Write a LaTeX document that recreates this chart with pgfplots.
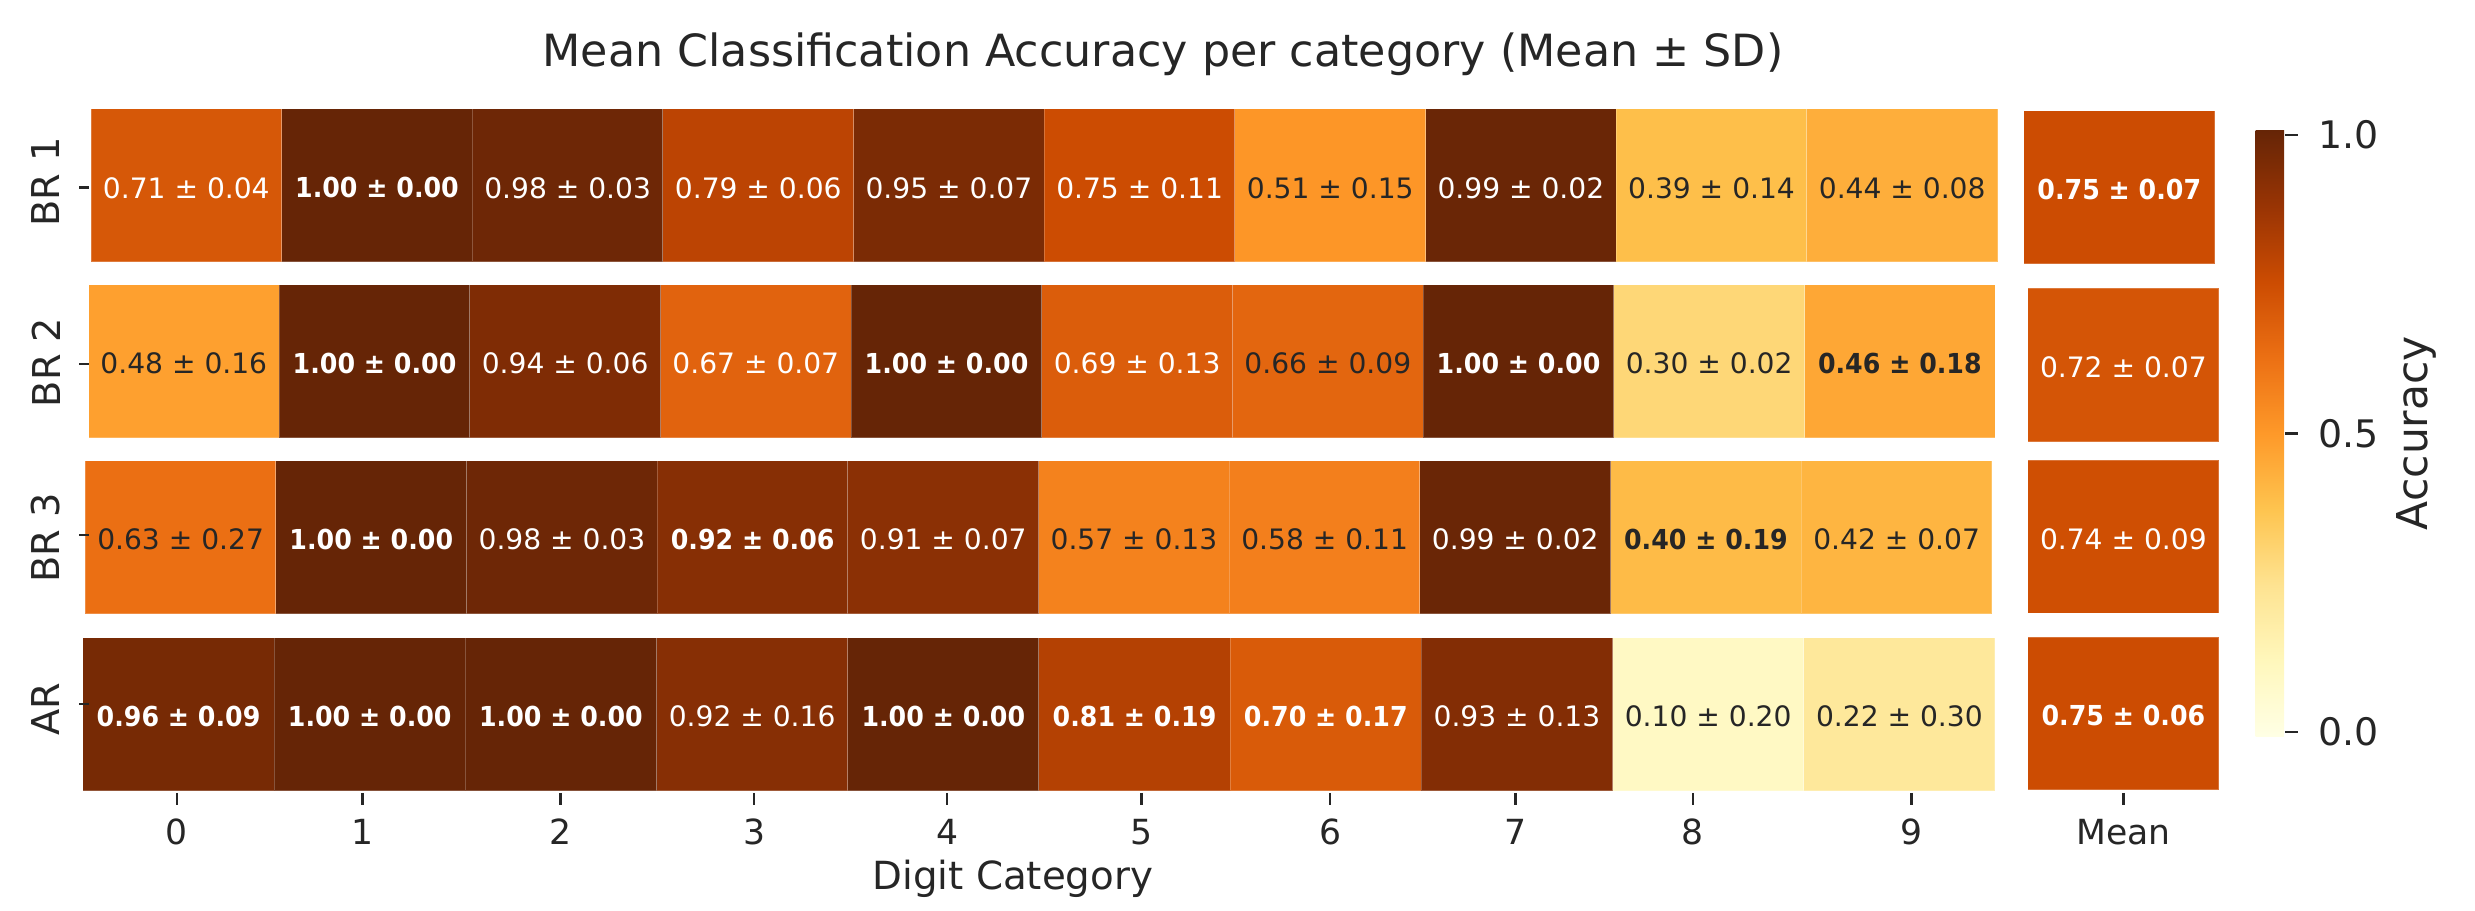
\documentclass[border=0pt]{standalone}
\usepackage{fontspec}
\setmainfont{DejaVu Sans}
\usepackage{graphicx}
\usepackage{pgfplots}
\pgfplotsset{compat=1.18}
\usepgfplotslibrary{patchplots}

\definecolor{dk}{RGB}{38,38,38}

\pgfplotsset{
  colormap={ylorbr}{rgb255=(255,255,229) rgb255=(255,247,188) rgb255=(254,227,145)
    rgb255=(254,196,79) rgb255=(254,153,41) rgb255=(236,112,20) rgb255=(204,76,2)
    rgb255=(153,52,4) rgb255=(102,37,6)},
  heat/.style={scale only axis, anchor=south west, hide axis, enlargelimits=false,
    clip=false, colormap name=ylorbr, point meta min=0, point meta max=1,
    height=36.72pt, ymin=-0.5, ymax=0.5},
  rowax/.style={heat, xmin=-0.5, xmax=9.5},
  meanax/.style={heat, width=45.86pt, xmin=-0.5, xmax=0.5},
  cells/.style={patch, patch type=rectangle, shader=faceted, faceted color=white,
    draw opacity=0.22, line width=0.25pt, point meta=explicit},
}
% same stops as the colormap, for the colour bar
\pgfdeclareverticalshading{ylorbrsh}{100bp}{rgb(0bp)=(1,1,0.898); rgb(25bp)=(1,1,0.898);
  rgb(31.25bp)=(1,0.969,0.737); rgb(37.5bp)=(0.996,0.890,0.569);
  rgb(43.75bp)=(0.996,0.769,0.310); rgb(50bp)=(0.996,0.6,0.161);
  rgb(56.25bp)=(0.925,0.439,0.078); rgb(62.5bp)=(0.8,0.298,0.008);
  rgb(68.75bp)=(0.6,0.204,0.016); rgb(75bp)=(0.4,0.145,0.024); rgb(100bp)=(0.4,0.145,0.024)}

\tikzset{
  cellw/.style={text=white, font=\fontsize{6.75}{8}\selectfont, inner sep=0pt, yshift=-0.6pt},
  cellwb/.style={cellw, font=\fontsize{6.6}{8}\selectfont\bfseries},
  celld/.style={cellw, text=dk},
  celldb/.style={cellwb, text=dk},
  tk/.style={line width=0.6pt, dk},
}
\newcommand\cw[2]{\node[cellw] at (axis cs:#1,0) {#2};}
\newcommand\cwb[2]{\node[cellwb] at (axis cs:#1,0) {\scalebox{0.92}[1]{#2}};}
\newcommand\cd[2]{\node[celld] at (axis cs:#1,0) {#2};}
\newcommand\cdb[2]{\node[celldb] at (axis cs:#1,0) {\scalebox{0.92}[1]{#2}};}

\begin{document}
\begin{tikzpicture}
\useasboundingbox (0,0) rectangle (594pt,218.64pt);

% ---- BR 1 (each cell: four corners, meta = mean accuracy)
\begin{axis}[rowax, at={(21.84pt,155.76pt)}, width=457.56pt]
\addplot[cells] coordinates {
(-0.5,-0.5) [0.71] (0.5,-0.5) [0.71] (0.5,0.5) [0.71] (-0.5,0.5) [0.71]
(0.5,-0.5) [1.00] (1.5,-0.5) [1.00] (1.5,0.5) [1.00] (0.5,0.5) [1.00]
(1.5,-0.5) [0.98] (2.5,-0.5) [0.98] (2.5,0.5) [0.98] (1.5,0.5) [0.98]
(2.5,-0.5) [0.79] (3.5,-0.5) [0.79] (3.5,0.5) [0.79] (2.5,0.5) [0.79]
(3.5,-0.5) [0.95] (4.5,-0.5) [0.95] (4.5,0.5) [0.95] (3.5,0.5) [0.95]
(4.5,-0.5) [0.75] (5.5,-0.5) [0.75] (5.5,0.5) [0.75] (4.5,0.5) [0.75]
(5.5,-0.5) [0.51] (6.5,-0.5) [0.51] (6.5,0.5) [0.51] (5.5,0.5) [0.51]
(6.5,-0.5) [0.99] (7.5,-0.5) [0.99] (7.5,0.5) [0.99] (6.5,0.5) [0.99]
(7.5,-0.5) [0.39] (8.5,-0.5) [0.39] (8.5,0.5) [0.39] (7.5,0.5) [0.39]
(8.5,-0.5) [0.44] (9.5,-0.5) [0.44] (9.5,0.5) [0.44] (8.5,0.5) [0.44]
};
\cw{0}{0.71 ± 0.04} \cwb{1}{1.00 ± 0.00} \cw{2}{0.98 ± 0.03} \cw{3}{0.79 ± 0.06}
\cw{4}{0.95 ± 0.07} \cw{5}{0.75 ± 0.11} \cd{6}{0.51 ± 0.15} \cw{7}{0.99 ± 0.02}
\cd{8}{0.39 ± 0.14} \cd{9}{0.44 ± 0.08}
\end{axis}
\begin{axis}[meanax, at={(485.69pt,155.28pt)}]
\addplot[cells] coordinates {(-0.5,-0.5) [0.75] (0.5,-0.5) [0.75] (0.5,0.5) [0.75] (-0.5,0.5) [0.75]};
\cwb{0}{0.75 ± 0.07}
\end{axis}

% ---- BR 2
\begin{axis}[rowax, at={(21.24pt,113.59pt)}, width=457.6pt]
\addplot[cells] coordinates {
(-0.5,-0.5) [0.48] (0.5,-0.5) [0.48] (0.5,0.5) [0.48] (-0.5,0.5) [0.48]
(0.5,-0.5) [1.00] (1.5,-0.5) [1.00] (1.5,0.5) [1.00] (0.5,0.5) [1.00]
(1.5,-0.5) [0.94] (2.5,-0.5) [0.94] (2.5,0.5) [0.94] (1.5,0.5) [0.94]
(2.5,-0.5) [0.67] (3.5,-0.5) [0.67] (3.5,0.5) [0.67] (2.5,0.5) [0.67]
(3.5,-0.5) [1.00] (4.5,-0.5) [1.00] (4.5,0.5) [1.00] (3.5,0.5) [1.00]
(4.5,-0.5) [0.69] (5.5,-0.5) [0.69] (5.5,0.5) [0.69] (4.5,0.5) [0.69]
(5.5,-0.5) [0.66] (6.5,-0.5) [0.66] (6.5,0.5) [0.66] (5.5,0.5) [0.66]
(6.5,-0.5) [1.00] (7.5,-0.5) [1.00] (7.5,0.5) [1.00] (6.5,0.5) [1.00]
(7.5,-0.5) [0.30] (8.5,-0.5) [0.30] (8.5,0.5) [0.30] (7.5,0.5) [0.30]
(8.5,-0.5) [0.46] (9.5,-0.5) [0.46] (9.5,0.5) [0.46] (8.5,0.5) [0.46]
};
\cd{0}{0.48 ± 0.16} \cwb{1}{1.00 ± 0.00} \cw{2}{0.94 ± 0.06} \cw{3}{0.67 ± 0.07}
\cwb{4}{1.00 ± 0.00} \cw{5}{0.69 ± 0.13} \cd{6}{0.66 ± 0.09} \cwb{7}{1.00 ± 0.00}
\cd{8}{0.30 ± 0.02} \cdb{9}{0.46 ± 0.18}
\end{axis}
\begin{axis}[meanax, at={(486.67pt,112.56pt)}, height=36.96pt]
\addplot[cells] coordinates {(-0.5,-0.5) [0.72] (0.5,-0.5) [0.72] (0.5,0.5) [0.72] (-0.5,0.5) [0.72]};
\cw{0}{0.72 ± 0.07}
\end{axis}

% ---- BR 3
\begin{axis}[rowax, at={(20.47pt,71.35pt)}, width=457.6pt]
\addplot[cells] coordinates {
(-0.5,-0.5) [0.63] (0.5,-0.5) [0.63] (0.5,0.5) [0.63] (-0.5,0.5) [0.63]
(0.5,-0.5) [1.00] (1.5,-0.5) [1.00] (1.5,0.5) [1.00] (0.5,0.5) [1.00]
(1.5,-0.5) [0.98] (2.5,-0.5) [0.98] (2.5,0.5) [0.98] (1.5,0.5) [0.98]
(2.5,-0.5) [0.92] (3.5,-0.5) [0.92] (3.5,0.5) [0.92] (2.5,0.5) [0.92]
(3.5,-0.5) [0.91] (4.5,-0.5) [0.91] (4.5,0.5) [0.91] (3.5,0.5) [0.91]
(4.5,-0.5) [0.57] (5.5,-0.5) [0.57] (5.5,0.5) [0.57] (4.5,0.5) [0.57]
(5.5,-0.5) [0.58] (6.5,-0.5) [0.58] (6.5,0.5) [0.58] (5.5,0.5) [0.58]
(6.5,-0.5) [0.99] (7.5,-0.5) [0.99] (7.5,0.5) [0.99] (6.5,0.5) [0.99]
(7.5,-0.5) [0.40] (8.5,-0.5) [0.40] (8.5,0.5) [0.40] (7.5,0.5) [0.40]
(8.5,-0.5) [0.42] (9.5,-0.5) [0.42] (9.5,0.5) [0.42] (8.5,0.5) [0.42]
};
\cd{0}{0.63 ± 0.27} \cwb{1}{1.00 ± 0.00} \cw{2}{0.98 ± 0.03} \cwb{3}{0.92 ± 0.06}
\cw{4}{0.91 ± 0.07} \cd{5}{0.57 ± 0.13} \cd{6}{0.58 ± 0.11} \cw{7}{0.99 ± 0.02}
\cdb{8}{0.40 ± 0.19} \cd{9}{0.42 ± 0.07}
\end{axis}
\begin{axis}[meanax, at={(486.67pt,71.45pt)}]
\addplot[cells] coordinates {(-0.5,-0.5) [0.74] (0.5,-0.5) [0.74] (0.5,0.5) [0.74] (-0.5,0.5) [0.74]};
\cw{0}{0.74 ± 0.09}
\end{axis}

% ---- AR
\begin{axis}[rowax, at={(19.90pt,28.87pt)}, width=458.9pt]
\addplot[cells] coordinates {
(-0.5,-0.5) [0.96] (0.5,-0.5) [0.96] (0.5,0.5) [0.96] (-0.5,0.5) [0.96]
(0.5,-0.5) [1.00] (1.5,-0.5) [1.00] (1.5,0.5) [1.00] (0.5,0.5) [1.00]
(1.5,-0.5) [1.00] (2.5,-0.5) [1.00] (2.5,0.5) [1.00] (1.5,0.5) [1.00]
(2.5,-0.5) [0.92] (3.5,-0.5) [0.92] (3.5,0.5) [0.92] (2.5,0.5) [0.92]
(3.5,-0.5) [1.00] (4.5,-0.5) [1.00] (4.5,0.5) [1.00] (3.5,0.5) [1.00]
(4.5,-0.5) [0.81] (5.5,-0.5) [0.81] (5.5,0.5) [0.81] (4.5,0.5) [0.81]
(5.5,-0.5) [0.70] (6.5,-0.5) [0.70] (6.5,0.5) [0.70] (5.5,0.5) [0.70]
(6.5,-0.5) [0.93] (7.5,-0.5) [0.93] (7.5,0.5) [0.93] (6.5,0.5) [0.93]
(7.5,-0.5) [0.10] (8.5,-0.5) [0.10] (8.5,0.5) [0.10] (7.5,0.5) [0.10]
(8.5,-0.5) [0.22] (9.5,-0.5) [0.22] (9.5,0.5) [0.22] (8.5,0.5) [0.22]
};
\cwb{0}{0.96 ± 0.09} \cwb{1}{1.00 ± 0.00} \cwb{2}{1.00 ± 0.00} \cw{3}{0.92 ± 0.16}
\cwb{4}{1.00 ± 0.00} \cwb{5}{0.81 ± 0.19} \cwb{6}{0.70 ± 0.17} \cw{7}{0.93 ± 0.13}
\cd{8}{0.10 ± 0.20} \cd{9}{0.22 ± 0.30}
\end{axis}
\begin{axis}[meanax, at={(486.67pt,29.04pt)}]
\addplot[cells] coordinates {(-0.5,-0.5) [0.75] (0.5,-0.5) [0.75] (0.5,0.5) [0.75] (-0.5,0.5) [0.75]};
\cwb{0}{0.75 ± 0.06}
\end{axis}

% ---- colour bar
\shade[shading=ylorbrsh] (541.32pt,41.83pt) rectangle (548.16pt,187.27pt);
\foreach \y/\t in {186.24/1.0, 114.6/0.5, 42.96/0.0}{
  \draw[tk] (548.5pt,\y pt) -- (551.4pt,\y pt);
  \node[anchor=west, inner sep=0pt, text=dk, font=\fontsize{9.1}{11}\selectfont] at (556.3pt,\y pt) {\t};
}
\node[rotate=90, text=dk, font=\fontsize{10.2}{12}\selectfont] at (580pt,114.7pt) {Accuracy};

% ---- row labels
\foreach \y/\ly/\t in {173.59/174.96/BR 1, 131.28/131.64/BR 2, 90.24/89.52/BR 3, 49.68/48.48/AR}{
  \draw[tk] (18.96pt,\y pt) -- (21.24pt,\y pt);
  \node[rotate=90, text=dk, font=\fontsize{9.2}{11}\selectfont] at (11.04pt,\ly pt) {\t};
}

% ---- column labels
\foreach \x/\t in {42.48/0, 87.05/1, 134.5/2, 181.0/3, 227.28/4, 274.0/5, 319.2/6,
                   363.72/7, 406.27/8, 458.76/9, 509.69/Mean}{
  \draw[tk] (\x pt,28.32pt) -- (\x pt,25.44pt);
  \node[anchor=base, inner sep=0pt, text=dk, font=\fontsize{8.3}{10}\selectfont] at (\x pt,16pt) {\t};
}
\node[anchor=base, inner sep=0pt, text=dk, font=\fontsize{9.3}{11}\selectfont] at (243.1pt,5.04pt) {Digit Category};
\node[anchor=base, inner sep=0pt, text=dk, font=\fontsize{10.65}{12}\selectfont] at (279.1pt,202.6pt)
  {Mean Classification Accuracy per category (Mean ± SD)};
\end{tikzpicture}
\end{document}
